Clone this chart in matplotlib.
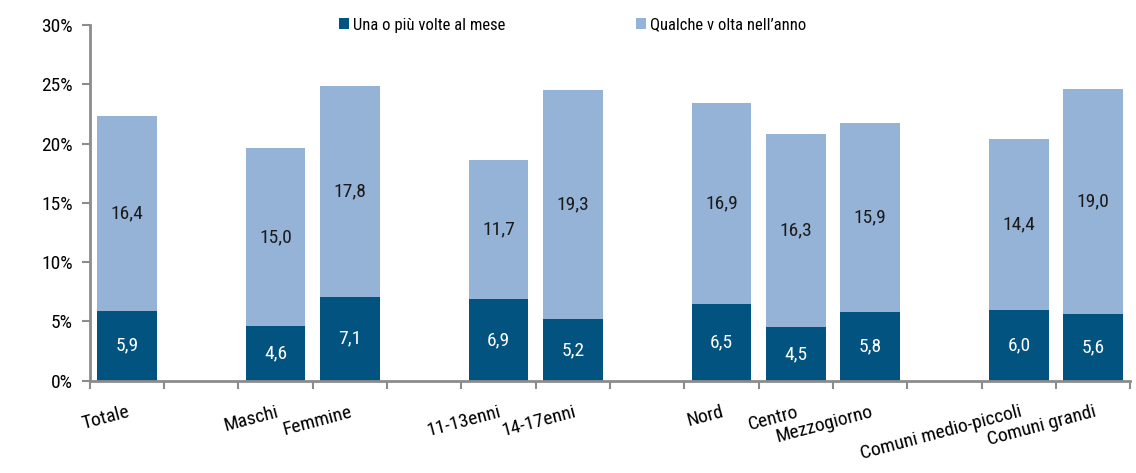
import matplotlib
matplotlib.use('Agg')
import matplotlib.pyplot as plt
from matplotlib import font_manager
import numpy as np

# data
groups = [["Totale"], ["Maschi", "Femmine"], ["11-13enni", "14-17enni"],
          ["Nord", "Centro", "Mezzogiorno"], ["Comuni medio-piccoli", "Comuni grandi"]]
mensile = [5.9, 4.6, 7.1, 6.9, 5.2, 6.5, 4.5, 5.8, 6.0, 5.6]
annuale = [16.4, 15.0, 17.8, 11.7, 19.3, 16.9, 16.3, 15.9, 14.4, 19.0]
serie = ["Una o più volte al mese", "Qualche v olta nell’anno"]

names = {f.name for f in font_manager.fontManager.ttflist}
fam = ['Liberation Sans Narrow', 'Roboto Condensed', 'Open Sans Condensed',
       'Liberation Sans', 'DejaVu Sans']
fam = [f for f in fam if f in names] + ['DejaVu Sans']
plt.rcParams['font.family'] = fam
plt.rcParams['font.weight'] = 'normal'
fs = 14

dark = '#02537F'
light = '#95B3D7'
grey = '#8C8C8C'

labels = []
pos = []
p = 0
for g in groups:
    for name in g:
        labels.append(name)
        pos.append(p)
        p += 1
    p += 1
n_slots = p - 1

fig = plt.figure(figsize=(11.36, 4.73), dpi=100)
ax = fig.add_axes([0.079, 0.195, 0.916, 0.752])

x = np.array(pos)
m = np.array(mensile)
a = np.array(annuale)
b1 = ax.bar(x, m, width=0.8, color=dark, label=serie[0], zorder=2)
b2 = ax.bar(x, a, bottom=m, width=0.8, color=light, label=serie[1], zorder=2)

for xi, mi, ai in zip(x, m, a):
    ax.text(xi, mi / 2, f"{mi:.1f}".replace('.', ','), ha='center', va='center',
            color='white', fontsize=fs)
    ax.text(xi, mi + ai / 2, f"{ai:.1f}".replace('.', ','), ha='center', va='center',
            color='#1a1a1a', fontsize=fs)

ax.set_xlim(-0.5, n_slots - 0.5)
ax.set_ylim(0, 30)
ax.set_yticks(np.arange(0, 31, 5))
ax.set_yticklabels([f"{v}%" for v in range(0, 31, 5)], fontsize=fs)

ax.set_xticks(x)
ax.set_xticklabels(labels, rotation=15, ha='right', rotation_mode='anchor', fontsize=fs)
ax.set_xticks(np.arange(-0.5, n_slots, 1), minor=True)
ax.tick_params(axis='x', which='major', length=0, pad=16)
ax.tick_params(axis='x', which='minor', length=6, width=1.5, color=grey, direction='out')
ax.tick_params(axis='y', length=6, width=1.5, color=grey, pad=6)

for s in ['top', 'right']:
    ax.spines[s].set_visible(False)
for s in ['left', 'bottom']:
    ax.spines[s].set_color(grey)
    ax.spines[s].set_linewidth(2)

fig.legend(handles=[b1, b2], labels=serie, loc='center', bbox_to_anchor=(0.504, 0.947),
           ncol=2, frameon=False, fontsize=12, handlelength=0.6, handleheight=0.6,
           handletextpad=0.25, columnspacing=7.8)

fig.savefig('out.png', dpi=100)
